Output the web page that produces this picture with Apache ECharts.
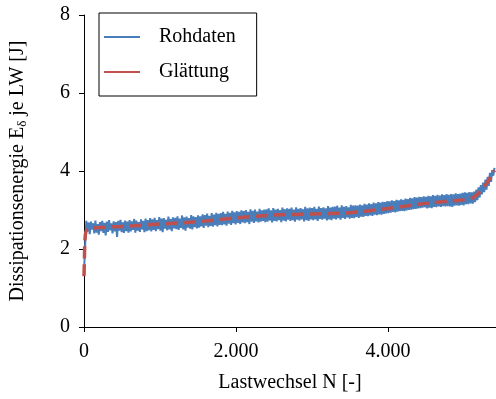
<!DOCTYPE html>
<html>
<head>
<meta charset="utf-8">
<script src="https://cdn.jsdelivr.net/npm/echarts@6/dist/echarts.min.js"></script>
<style>
  html, body { margin: 0; padding: 0; background: #fff; }
  #chart { width: 496px; height: 399px; }
</style>
</head>
<body>
<div id="chart"></div>
<script>
// Rohdaten: Messwert je 15 Lastwechsel, Start bei N = 0
var rawStep = 15
var rawE = [
  1.40, 2.10, 2.72, 2.45, 2.68, 2.38, 2.70, 2.50, 2.66, 2.40, 2.73, 2.42, 2.64, 2.37, 2.69, 2.46, 2.72, 2.41, 2.67, 2.35,
  2.70, 2.44, 2.74, 2.48, 2.66, 2.40, 2.71, 2.45, 2.69, 2.31, 2.72, 2.47, 2.75, 2.43, 2.68, 2.41, 2.73, 2.46, 2.70, 2.42,
  2.74, 2.45, 2.71, 2.49, 2.77, 2.42, 2.73, 2.47, 2.69, 2.44, 2.76, 2.50, 2.72, 2.43, 2.78, 2.46, 2.74, 2.48, 2.79, 2.45,
  2.76, 2.49, 2.80, 2.46, 2.74, 2.51, 2.82, 2.47, 2.78, 2.43, 2.79, 2.52, 2.75, 2.48, 2.83, 2.50, 2.77, 2.46, 2.81, 2.53,
  2.80, 2.51, 2.84, 2.49, 2.78, 2.54, 2.86, 2.50, 2.81, 2.47, 2.83, 2.55, 2.79, 2.52, 2.87, 2.50, 2.84, 2.56, 2.82, 2.53,
  2.86, 2.55, 2.84, 2.58, 2.89, 2.54, 2.87, 2.60, 2.91, 2.56, 2.85, 2.59, 2.92, 2.57, 2.88, 2.61, 2.93, 2.58, 2.90, 2.62,
  2.92, 2.61, 2.95, 2.63, 2.90, 2.60, 2.96, 2.65, 2.93, 2.62, 2.98, 2.66, 2.94, 2.63, 2.97, 2.67, 2.95, 2.64, 2.99, 2.68,
  2.97, 2.66, 3.00, 2.69, 2.95, 2.64, 3.02, 2.70, 2.98, 2.67, 3.01, 2.71, 2.96, 2.68, 3.03, 2.70, 2.99, 2.72, 3.01, 2.69,
  3.02, 2.70, 3.04, 2.73, 2.99, 2.68, 3.05, 2.72, 3.01, 2.71, 3.03, 2.74, 3.00, 2.69, 3.06, 2.73, 3.02, 2.71, 3.04, 2.75,
  3.03, 2.72, 3.06, 2.74, 3.01, 2.70, 3.07, 2.75, 3.03, 2.73, 3.05, 2.76, 3.02, 2.71, 3.08, 2.74, 3.04, 2.72, 3.06, 2.76,
  3.05, 2.74, 3.08, 2.76, 3.03, 2.72, 3.09, 2.77, 3.05, 2.75, 3.07, 2.78, 3.04, 2.73, 3.10, 2.76, 3.06, 2.74, 3.08, 2.78,
  3.09, 2.76, 3.11, 2.79, 3.06, 2.75, 3.12, 2.80, 3.08, 2.77, 3.10, 2.81, 3.07, 2.78, 3.13, 2.80, 3.11, 2.79, 3.12, 2.82,
  3.11, 2.80, 3.14, 2.83, 3.12, 2.82, 3.16, 2.85, 3.14, 2.84, 3.17, 2.86, 3.15, 2.85, 3.19, 2.88, 3.17, 2.87, 3.20, 2.89,
  3.19, 2.88, 3.21, 2.90, 3.20, 2.91, 3.23, 2.92, 3.22, 2.93, 3.25, 2.95, 3.23, 2.94, 3.26, 2.96, 3.25, 2.97, 3.27, 2.98,
  3.26, 2.97, 3.29, 2.99, 3.28, 3.00, 3.31, 3.01, 3.30, 3.02, 3.33, 3.03, 3.32, 3.04, 3.34, 3.05, 3.33, 3.06, 3.35, 3.07,
  3.34, 3.04, 3.36, 3.06, 3.35, 3.05, 3.38, 3.08, 3.36, 3.07, 3.39, 3.09, 3.37, 3.08, 3.40, 3.10, 3.38, 3.09, 3.41, 3.10,
  3.39, 3.09, 3.41, 3.08, 3.40, 3.11, 3.43, 3.12, 3.41, 3.11, 3.42, 3.13, 3.44, 3.12, 3.45, 3.15, 3.44, 3.15, 3.46, 3.17,
  3.45, 3.16, 3.47, 3.20, 3.52, 3.25, 3.58, 3.32, 3.64, 3.40, 3.70, 3.46, 3.78, 3.52, 3.85, 3.62, 3.95, 3.72, 4.02, 3.88,
  4.08
]

// Glättung
var smoothN = [0, 5, 10, 20, 40, 80, 200, 500, 1000, 1500, 2000, 2500, 3000, 3500, 4000, 4500, 5000, 5100, 5190, 5280, 5340, 5380, 5400]
var smoothE = [1.3, 1.7, 2.1, 2.4, 2.49, 2.52, 2.55, 2.58, 2.64, 2.70, 2.80, 2.87, 2.90, 2.93, 3.04, 3.17, 3.26, 3.30, 3.43, 3.64, 3.82, 3.94, 4.02]

var xTicks = [0, 2000, 4000]
var yTicks = [0, 2, 4, 6, 8]

var FONT = 'Liberation Serif'

var rawData = rawE.map(function (v, i) { return [i * rawStep, v] })
var smoothData = smoothE.map(function (v, i) { return [smoothN[i], v] })

var chart = echarts.init(document.getElementById('chart'), null, { renderer: 'canvas' })
chart.setOption({
  animation: false,
  backgroundColor: '#fff',
  textStyle: { fontFamily: FONT, color: '#000' },
  grid: { left: 84, right: 0, top: 15, bottom: 72, containLabel: false },
  legend: {
    orient: 'vertical',
    left: 99,
    top: 13,
    padding: [14, 21, 14, 5],
    itemGap: 15,
    itemWidth: 36,
    itemHeight: 2,
    borderColor: '#000',
    borderWidth: 1,
    backgroundColor: '#fff',
    textStyle: { fontFamily: FONT, fontSize: 20, color: '#000', padding: [0, 0, 0, 14] },
    data: [
      { name: 'Rohdaten', icon: 'rect' },
      { name: 'Glättung', icon: 'rect' }
    ]
  },
  xAxis: {
    type: 'value',
    min: 0,
    max: 5420,
    interval: 2000,
    name: 'Lastwechsel N [-]',
    nameLocation: 'middle',
    nameGap: 46,
    nameTextStyle: { fontFamily: FONT, fontSize: 20, color: '#000' },
    splitLine: { show: false },
    axisLine: { lineStyle: { color: '#000', width: 1 } },
    axisTick: { show: true, length: 5, lineStyle: { color: '#000' }, customValues: xTicks },
    axisLabel: {
      fontFamily: FONT, fontSize: 20, color: '#000', margin: 15,
      customValues: xTicks,
      formatter: function (v) { return v === 0 ? '0' : (v / 1000).toFixed(3) }
    }
  },
  yAxis: {
    type: 'value',
    min: 0,
    max: 8,
    interval: 2,
    name: '{n|Dissipationsenergie E}{s|δ}{n| je LW [J]}',
    nameLocation: 'middle',
    nameGap: 55,
    nameTextStyle: {
      fontFamily: FONT, fontSize: 20, color: '#000',
      rich: {
        n: { fontFamily: FONT, fontSize: 20, color: '#000', lineHeight: 22 },
        s: { fontFamily: FONT, fontSize: 13, color: '#000', lineHeight: 14, verticalAlign: 'bottom' }
      }
    },
    splitLine: { show: false },
    axisLine: { show: true, lineStyle: { color: '#000', width: 1 } },
    axisTick: { show: true, length: 5, lineStyle: { color: '#000' }, customValues: yTicks },
    axisLabel: { fontFamily: FONT, fontSize: 20, color: '#000', margin: 14, customValues: yTicks }
  },
  series: [
    {
      name: 'Rohdaten',
      type: 'line',
      data: rawData,
      showSymbol: false,
      symbol: 'none',
      color: '#4A7EBB',
      lineStyle: { color: '#4A7EBB', width: 2 },
      z: 2
    },
    {
      name: 'Glättung',
      type: 'line',
      data: smoothData,
      smooth: 0.3,
      showSymbol: false,
      symbol: 'none',
      color: '#C0504D',
      lineStyle: { color: '#C0504D', width: 3.5, type: [12, 6] },
      z: 3
    }
  ]
})
</script>
</body>
</html>
